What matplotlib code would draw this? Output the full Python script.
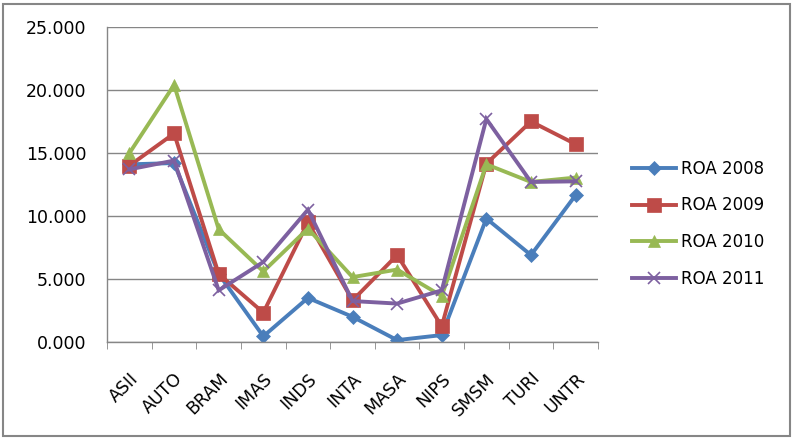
import numpy as np
from matplotlib import pyplot as plt
from matplotlib.patches import Rectangle

# data
companies = ['ASII', 'AUTO', 'BRAM', 'IMAS', 'INDS', 'INTA', 'MASA', 'NIPS', 'SMSM', 'TURI', 'UNTR']
roa_2008 = [14.1, 14.2, 5.4, 0.45, 3.5, 2.0, 0.15, 0.55, 9.8, 6.9, 11.65]
roa_2009 = [14.0, 16.55, 5.4, 2.33, 9.5, 3.3, 6.9, 1.25, 14.15, 17.5, 15.7]
roa_2010 = [15.0, 20.4, 8.95, 5.6, 9.0, 5.15, 5.75, 3.65, 14.1, 12.7, 13.05]
roa_2011 = [13.7, 14.4, 4.1, 6.35, 10.5, 3.25, 3.05, 4.1, 17.7, 12.7, 12.75]

series = [
    ('ROA 2008', roa_2008, '#4A7EBB', 'D', 7),
    ('ROA 2009', roa_2009, '#BE4B48', 's', 9.5),
    ('ROA 2010', roa_2010, '#98B954', '^', 9),
    ('ROA 2011', roa_2011, '#7D60A0', 'x', 9),
]

plt.rcParams['font.family'] = 'DejaVu Sans'
fs = 12.5

fig = plt.figure(figsize=(7.94, 4.40), dpi=100)
ax = fig.add_axes([0.135, 0.2227, 0.618, 0.716])

x = np.arange(len(companies))
for name, vals, col, mk, ms in series:
    ax.plot(x, vals, color=col, lw=2.8, marker=mk, markersize=ms,
            markeredgewidth=1.2 if mk == 'x' else 0.5, markeredgecolor=col,
            label=name, solid_joinstyle='miter')

ax.set_xlim(-0.5, len(companies) - 0.5)
ax.set_ylim(0, 25)
ax.set_yticks(np.arange(0, 26, 5))
ax.set_yticklabels(['%.3f' % v for v in np.arange(0, 26, 5)])
ax.yaxis.grid(True, color='#868686', lw=1)
ax.set_axisbelow(True)
ax.tick_params(axis='y', length=0, pad=15, labelsize=fs, colors='#000000')

ax.set_xticks(x)
ax.set_xticklabels(companies, rotation=45, ha='right', rotation_mode='anchor')
ax.set_xticks(np.arange(-0.5, len(companies), 1), minor=True)
ax.tick_params(axis='x', which='major', length=0, pad=20, labelsize=fs)
ax.tick_params(axis='x', which='minor', length=5, color='#868686', direction='out')

for s in ['top', 'right']:
    ax.spines[s].set_visible(False)
for s in ['left', 'bottom']:
    ax.spines[s].set_color('#868686')
    ax.spines[s].set_linewidth(1)

fig.legend(loc='upper left', bbox_to_anchor=(0.788, 0.652), frameon=False,
           fontsize=12, handlelength=2.6, labelspacing=1.12, handletextpad=0.3,
           borderaxespad=0)

fig.patches.append(Rectangle((0.004, 0.01), 0.991, 0.98, transform=fig.transFigure,
                             fill=False, edgecolor='#868686', lw=1.5))

fig.savefig('out.png', dpi=100)
